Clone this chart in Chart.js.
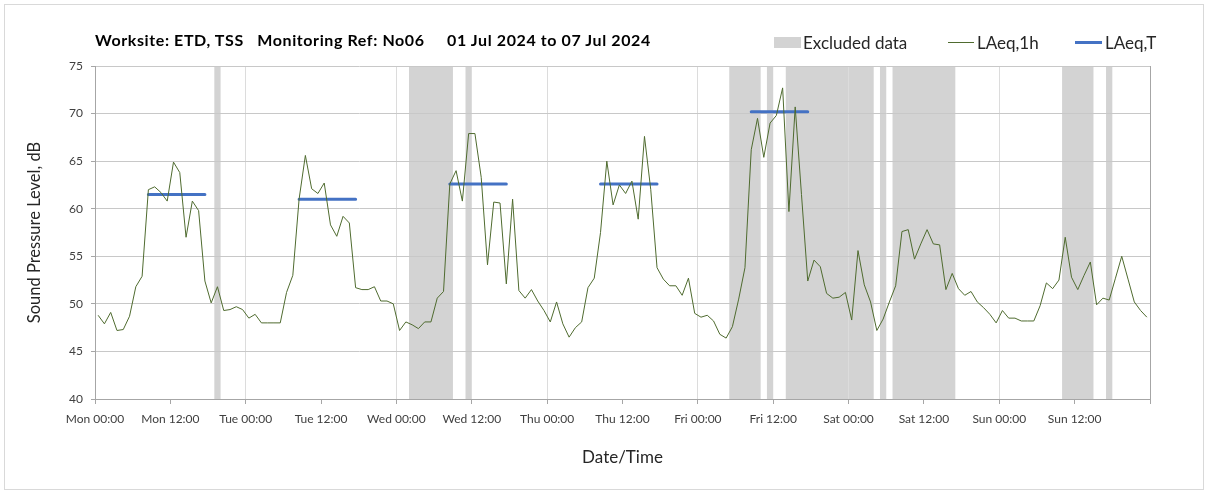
<!DOCTYPE html>
<html>
<head>
<meta charset="utf-8">
<script src="https://cdn.jsdelivr.net/npm/chart.js@4.4.1/dist/chart.umd.min.js"></script>
<style>
  body { margin: 0; background: #fff; font-family: Lato, "Open Sans", sans-serif; }
  #wrap { position: relative; width: 1208px; height: 493px; }
  #frame { position: absolute; left: 4px; top: 4px; width: 1198px; height: 484px; border: 1px solid #d9d9d9; }
  #chart { position: absolute; left: 0; top: 0; }
  .title { position: absolute; left: 95px; top: 30px; font-size: 16px; letter-spacing: 0.6px; font-weight: bold; color: #000; white-space: pre; }
  .leg { position: absolute; top: 32px; font-size: 17px; color: #262626; white-space: pre; }
  .sw { position: absolute; }
</style>
</head>
<body>
<div id="wrap">
  <div id="frame"></div>
  <canvas id="chart" width="1208" height="493"></canvas>
  <div class="title">Worksite: ETD, TSS   Monitoring Ref: No06     01 Jul 2024 to 07 Jul 2024</div>
  <div class="sw" style="left:774px; top:37px; width:27px; height:11px; background:#d3d3d3;"></div>
  <div class="leg" style="left:803px;">Excluded data</div>
  <div class="sw" style="left:948px; top:42px; width:26px; height:1px; background:#4f6b2f;"></div>
  <div class="leg" style="left:977px;">LAeq,1h</div>
  <div class="sw" style="left:1075px; top:41px; width:27px; height:3px; background:#4472c4;"></div>
  <div class="leg" style="left:1105px;">LAeq,T</div>
</div>
<script>
// hourly LAeq,1h values, Mon 00:00 .. Sun 23:00 (plotted at the middle of each hour)
const laeq1h = [
  48.8, 47.9, 49.1, 47.2, 47.3, 48.7, 51.8, 52.9, 62.0, 62.3,
  61.7, 60.8, 64.9, 63.8, 57.0, 60.8, 59.8, 52.4, 50.1, 51.8,
  49.3, 49.4, 49.7, 49.4, 48.5, 48.9, 48.0, 48.0, 48.0, 48.0,
  51.2, 53.0, 61.0, 65.6, 62.1, 61.6, 62.7, 58.3, 57.1, 59.2,
  58.5, 51.7, 51.5, 51.5, 51.8, 50.3, 50.3, 50.0, 47.2, 48.1,
  47.8, 47.4, 48.1, 48.1, 50.6, 51.3, 62.6, 64.0, 60.8, 67.9,
  67.9, 63.3, 54.1, 60.7, 60.6, 52.1, 61.0, 51.4, 50.6, 51.5,
  50.3, 49.3, 48.1, 50.2, 47.9, 46.5, 47.5, 48.1, 51.7, 52.7,
  57.5, 65.0, 60.4, 62.5, 61.6, 62.9, 58.9, 67.6, 62.0, 53.8,
  52.6, 51.9, 51.9, 50.9, 52.7, 49.0, 48.6, 48.8, 48.2, 46.8,
  46.4, 47.6, 50.5, 53.8, 66.2, 69.5, 65.4, 69.0, 69.8, 72.7,
  59.7, 70.7, 61.5, 52.4, 54.6, 53.9, 51.1, 50.6, 50.7, 51.2,
  48.3, 55.6, 52.0, 50.2, 47.2, 48.4, 50.2, 51.9, 57.6, 57.8,
  54.7, 56.3, 57.8, 56.3, 56.2, 51.5, 53.2, 51.6, 50.9, 51.3,
  50.2, 49.6, 48.9, 48.0, 49.3, 48.5, 48.5, 48.2, 48.2, 48.2,
  49.8, 52.2, 51.6, 52.5, 57.0, 52.8, 51.5, 53.0, 54.4, 49.9,
  50.6, 50.4, 52.7, 55.0, 52.6, 50.2, 49.3, 48.6
];

// LAeq,T daytime periods (hours from Mon 00:00)
const laeqTStart = [8.5, 32.5, 56.5, 80.5, 104.5];
const laeqTEnd   = [17.5, 41.5, 65.5, 89.5, 113.5];
const laeqTValue = [61.5, 61.0, 62.6, 62.6, 70.2];

// excluded data periods (hours from Mon 00:00)
const excludedStart = [19, 50, 59, 101, 107, 110, 125, 127, 154, 161];
const excludedEnd   = [20, 57, 60, 106, 108, 124, 126, 137, 159, 162];

const xTickLabels = [
  'Mon 00:00', 'Mon 12:00', 'Tue 00:00', 'Tue 12:00', 'Wed 00:00', 'Wed 12:00',
  'Thu 00:00', 'Thu 12:00', 'Fri 00:00', 'Fri 12:00', 'Sat 00:00', 'Sat 12:00',
  'Sun 00:00', 'Sun 12:00', ''
];

const hourlyPoints = laeq1h.map((v, i) => ({ x: i + 0.5, y: v }));

const periodPoints = [];
laeqTValue.forEach((v, i) => {
  periodPoints.push({ x: laeqTStart[i], y: v });
  periodPoints.push({ x: laeqTEnd[i], y: v });
  periodPoints.push({ x: laeqTEnd[i], y: null });
});

// grey bands behind the grid
const excludedBands = {
  id: 'excludedBands',
  beforeDraw(chart) {
    const { ctx, chartArea, scales } = chart;
    ctx.save();
    ctx.fillStyle = '#d3d3d3';
    for (let i = 0; i < excludedStart.length; i++) {
      const x1 = scales.x.getPixelForValue(excludedStart[i]);
      const x2 = scales.x.getPixelForValue(excludedEnd[i]);
      ctx.fillRect(x1, chartArea.top, x2 - x1, chartArea.bottom - chartArea.top);
    }
    ctx.restore();
  }
};

const tickFont = { family: 'Lato, "Open Sans", sans-serif', size: 12 };

new Chart(document.getElementById('chart'), {
  type: 'line',
  data: {
    datasets: [{
      label: 'LAeq,1h',
      data: hourlyPoints,
      borderColor: '#4f6b2f',
      borderWidth: 1,
      pointRadius: 0,
      tension: 0
    }, {
      label: 'LAeq,T',
      data: periodPoints,
      borderColor: '#4472c4',
      borderWidth: 3,
      borderCapStyle: 'round',
      pointRadius: 0,
      spanGaps: false
    }]
  },
  options: {
    responsive: false,
    animation: false,
    layout: { padding: { left: 0, top: 66, right: 58, bottom: 0 } },
    plugins: {
      legend: { display: false },
      tooltip: { enabled: false }
    },
    scales: {
      x: {
        type: 'linear',
        min: 0,
        max: 168,
        afterFit(scale) { scale.height = 94; },
        afterBuildTicks(scale) {
          scale.ticks = xTickLabels.map((_, i) => ({ value: i * 12 }));
        },
        ticks: {
          autoSkip: false,
          maxRotation: 0,
          padding: 8,
          color: '#404040',
          font: tickFont,
          callback: (value) => xTickLabels[Math.round(value / 12)]
        },
        grid: {
          color: (ctx) => {
            const v = ctx.tick ? ctx.tick.value : 0;
            if (v === 168) return '#a6a6a6';
            if (v > 0 && v % 24 === 0) return '#dcdcdc';
            return 'rgba(0,0,0,0)';
          },
          tickColor: '#a6a6a6',
          tickLength: 5,
          lineWidth: 1
        },
        border: { color: '#a6a6a6' },
        title: {
          display: true,
          text: 'Date/Time',
          color: '#262626',
          font: { family: 'Lato, "Open Sans", sans-serif', size: 17 },
          padding: { top: 0, bottom: 25 }
        }
      },
      y: {
        min: 40,
        max: 75,
        afterFit(scale) { scale.width = 95; },
        ticks: {
          stepSize: 5,
          padding: 8,
          color: '#404040',
          font: tickFont
        },
        grid: {
          color: '#c8c8c8',
          tickColor: '#a6a6a6',
          tickLength: 4
        },
        border: { color: '#a6a6a6' },
        title: {
          display: true,
          text: 'Sound Pressure Level, dB',
          color: '#262626',
          font: { family: 'Lato, "Open Sans", sans-serif', size: 16.5 },
          padding: { top: 25, bottom: 0 }
        }
      }
    }
  },
  plugins: [excludedBands]
});
</script>
</body>
</html>
